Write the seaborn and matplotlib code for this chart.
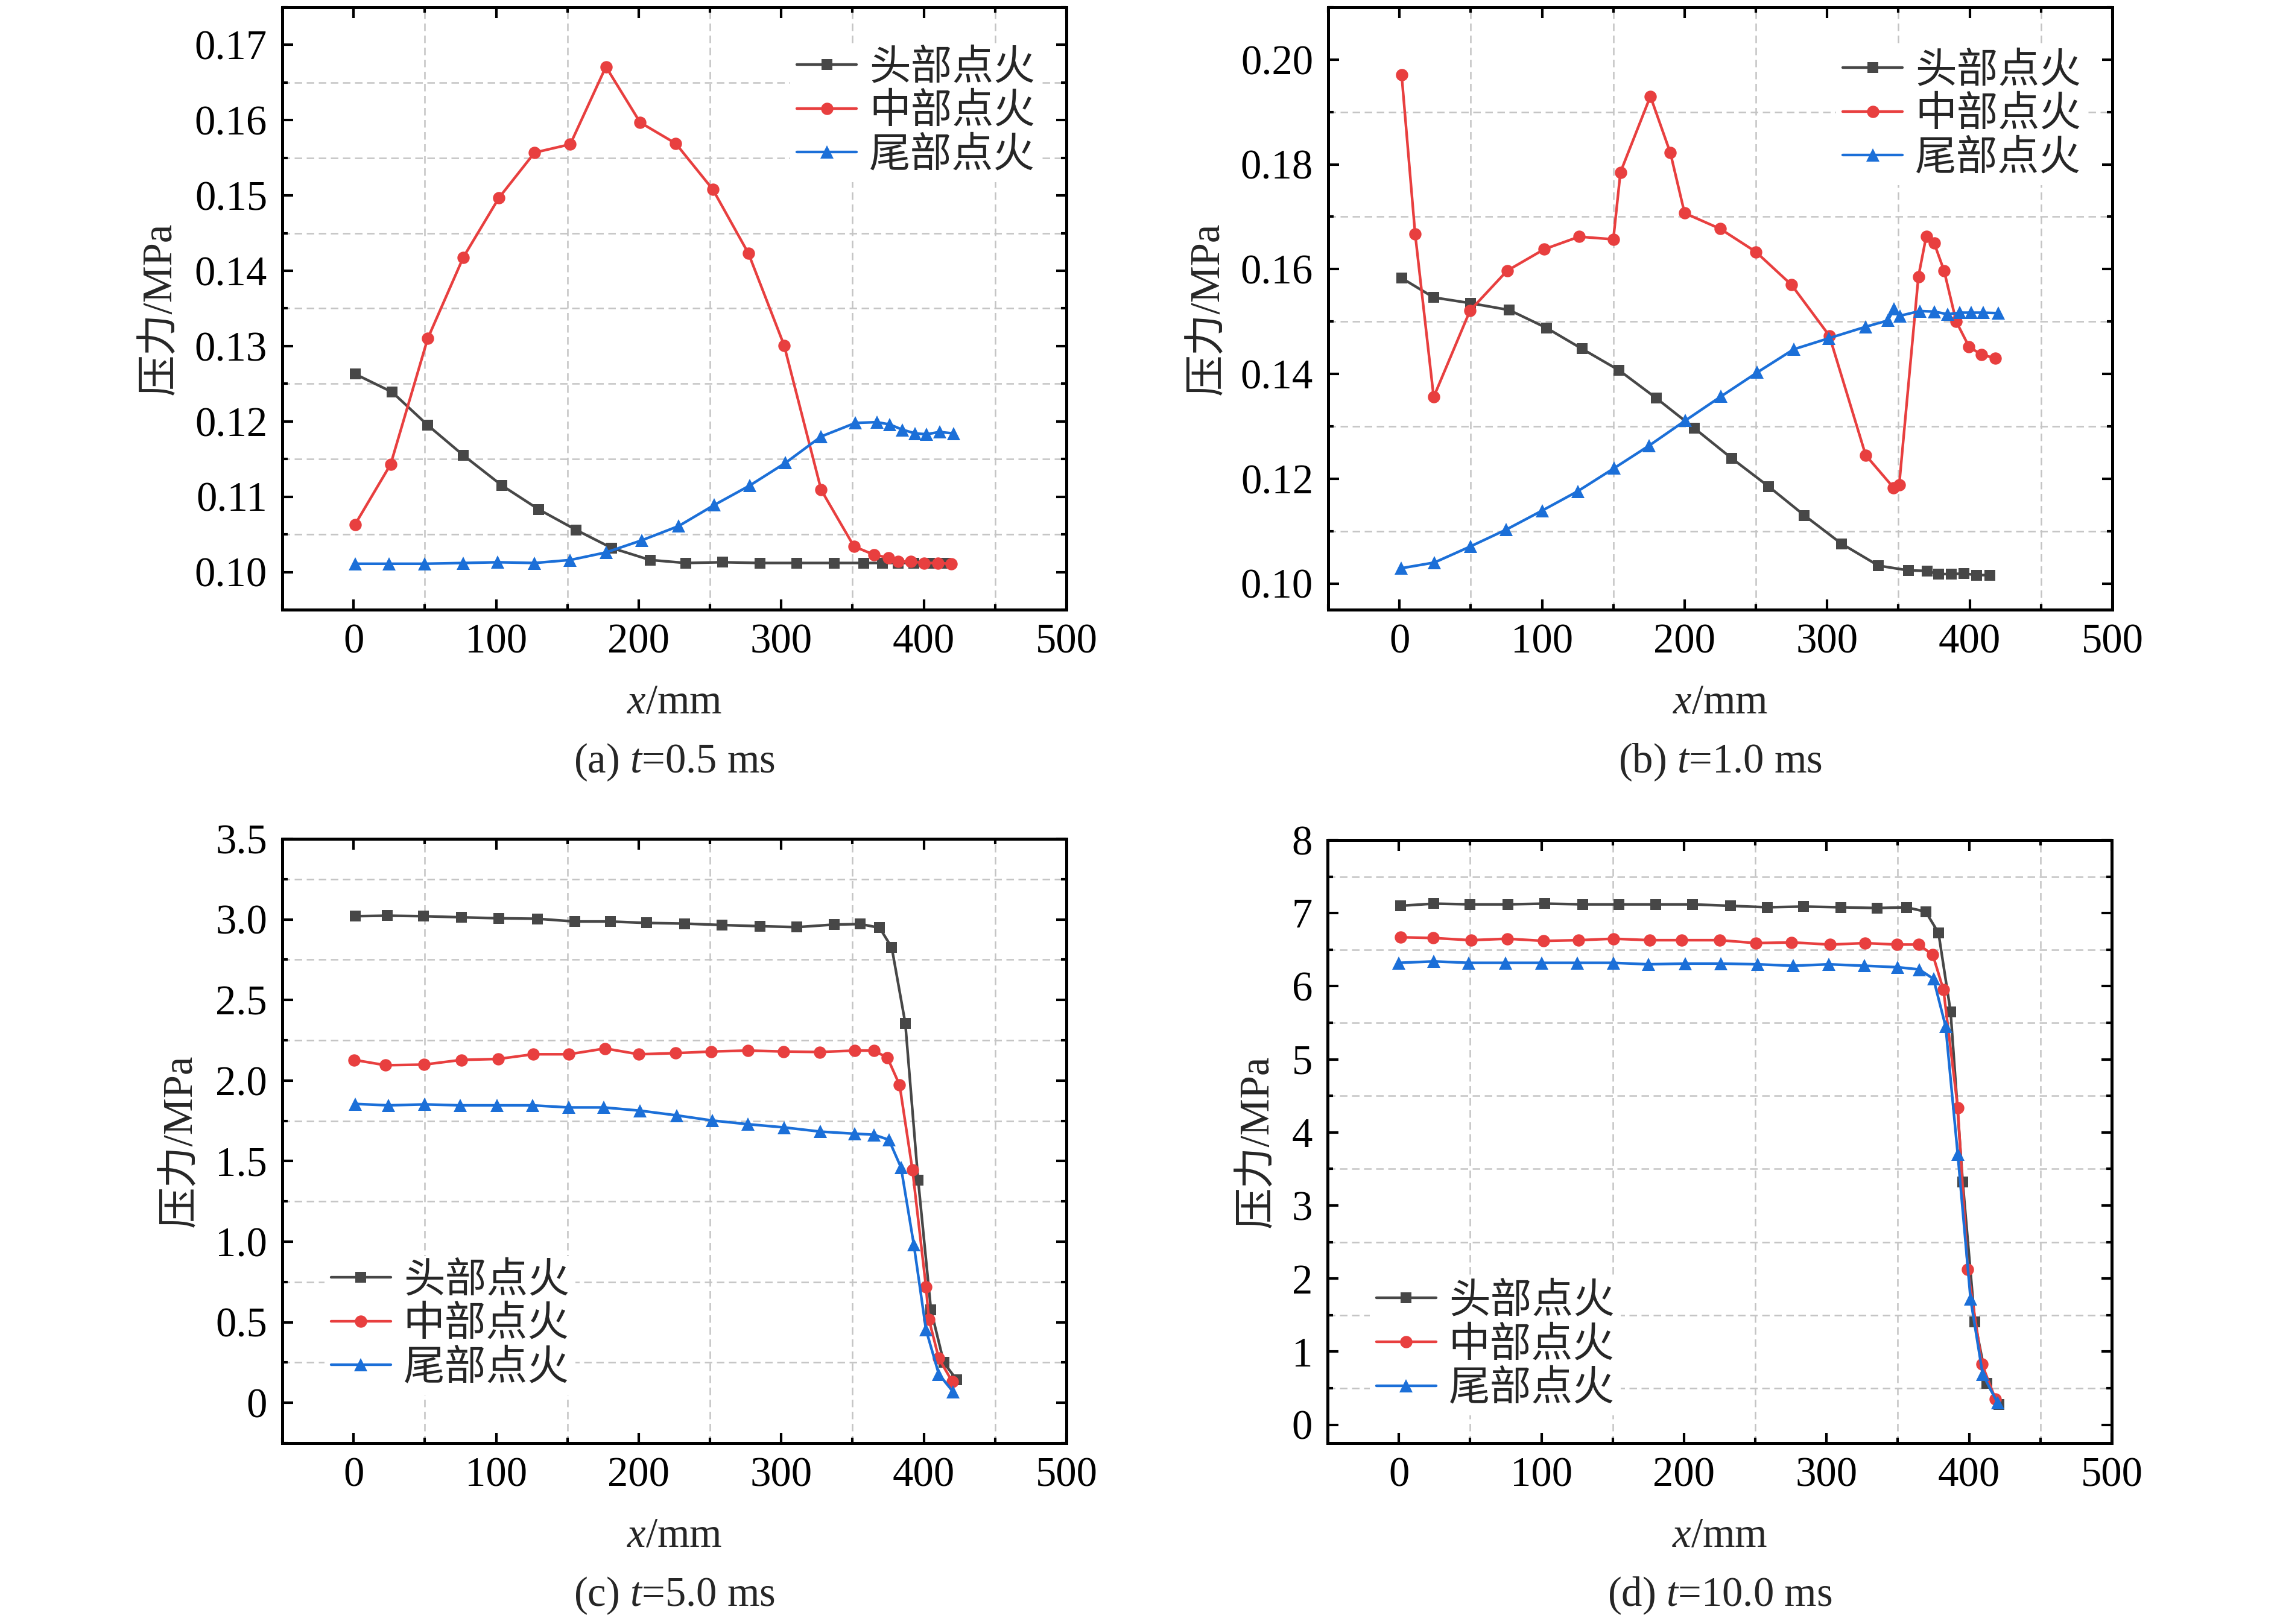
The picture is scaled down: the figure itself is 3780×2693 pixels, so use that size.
import numpy as np
import pandas as pd
import seaborn as sns
import matplotlib.pyplot as plt
from matplotlib.ticker import MultipleLocator, FuncFormatter

# series names
names = ['头部点火', '中部点火', '尾部点火']
colors = ['#474747', '#e83f3f', '#1b6fd8']
markers = ['s', 'o', '^']

# (a) t=0.5 ms
xa_head = [1, 27, 52, 77, 104, 130, 156, 181, 208, 233, 259, 285, 311, 337, 358, 371, 382, 393, 404, 415]
pa_head = [0.1263, 0.1239, 0.1195, 0.1155, 0.1115, 0.1083, 0.1056, 0.1032, 0.1016, 0.1012,
           0.1013, 0.1012, 0.1012, 0.1012, 0.1012, 0.1012, 0.1012, 0.1012, 0.1012, 0.1012]
xa_mid = [1, 26, 52, 77, 102, 127, 152, 177, 201, 226, 252, 277, 302, 328, 351, 365, 375, 382, 391, 400, 410, 419]
pa_mid = [0.1063, 0.1143, 0.1310, 0.1418, 0.1497, 0.1557, 0.1568, 0.1671, 0.1597, 0.1569, 0.1508,
          0.1423, 0.1301, 0.1109, 0.1034, 0.1023, 0.1019, 0.1014, 0.1014, 0.1012, 0.1012, 0.1011]
xa_tail = [1, 25, 50, 77, 101, 127, 152, 177, 202, 228, 253, 278, 303, 328, 352, 367, 376, 385, 394, 402, 411, 421]
pa_tail = [0.1011, 0.1011, 0.1011, 0.1012, 0.1013, 0.1012, 0.1016, 0.1026, 0.1042, 0.1061, 0.1089,
           0.1115, 0.1145, 0.1180, 0.1198, 0.1199, 0.1196, 0.1189, 0.1184, 0.1183, 0.1186, 0.1184]

# (b) t=1.0 ms
xb_head = [1.5, 24, 50, 77, 103, 128, 154, 180, 207, 233, 259, 284, 310, 336, 357, 370, 378, 387, 396, 405, 414]
pb_head = [0.1583, 0.1546, 0.1535, 0.1522, 0.1488, 0.1448, 0.1407, 0.1354, 0.1296, 0.1239, 0.1185,
           0.1130, 0.1076, 0.1034, 0.1025, 0.1024, 0.1018, 0.1018, 0.1019, 0.1016, 0.1016]
xb_mid = [1.5, 11, 24, 49.5, 75.5, 101.5, 126, 150, 155, 176, 190, 200, 225, 250, 275, 301.5, 327,
          346.5, 350.5, 364, 369.5, 375, 382, 390.5, 399.5, 408, 418]
pb_mid = [0.1971, 0.1667, 0.1356, 0.1521, 0.1597, 0.1638, 0.1662, 0.1657, 0.1785, 0.1930, 0.1822,
          0.1707, 0.1677, 0.1633, 0.1570, 0.1473, 0.1245, 0.1183, 0.1188, 0.1586, 0.1663, 0.1650,
          0.1597, 0.1500, 0.1452, 0.1437, 0.1430]
xb_tail = [1, 24.5, 50, 75, 100, 125, 150.5, 175, 200.5, 225.5, 251, 276.5, 301, 327, 342.5, 347,
           351, 365, 375, 384.5, 393, 401, 409.5, 420]
pb_tail = [0.1029, 0.1040, 0.1071, 0.1103, 0.1139, 0.1176, 0.1220, 0.1263, 0.1311, 0.1357, 0.1403,
           0.1447, 0.1468, 0.1490, 0.1502, 0.1524, 0.1511, 0.1520, 0.1519, 0.1514, 0.1517, 0.1517,
           0.1517, 0.1516]

# (c) t=5.0 ms
xc_head = [1, 23.5, 49, 75.5, 102, 129, 155, 180, 205.5, 232, 258.5, 285, 311, 337, 355.5, 369,
           377.5, 387, 396, 405, 414, 423]
pc_head = [3.020, 3.023, 3.020, 3.013, 3.007, 3.004, 2.987, 2.987, 2.978, 2.974, 2.965, 2.958,
           2.952, 2.968, 2.971, 2.948, 2.825, 2.355, 1.382, 0.577, 0.250, 0.143]
xc_mid = [0.5, 22.5, 49.5, 75.5, 101.5, 126, 151, 176.5, 200, 226, 251, 276.5, 301.5, 327, 351.5,
          365, 374.5, 383, 392, 401.5, 403.5, 410.5, 420]
pc_mid = [2.128, 2.095, 2.099, 2.128, 2.134, 2.163, 2.163, 2.199, 2.163, 2.170, 2.180, 2.186,
          2.180, 2.177, 2.186, 2.186, 2.141, 1.972, 1.447, 0.720, 0.519, 0.276, 0.130]
xc_tail = [1, 24.5, 50, 75, 100.5, 125.5, 151, 175.5, 201, 226.5, 251.5, 276.5, 302, 327.5, 351.5,
           365, 375.5, 384, 393, 401.5, 410.5, 420.5]
pc_tail = [1.855, 1.846, 1.852, 1.846, 1.846, 1.846, 1.833, 1.833, 1.813, 1.784, 1.752, 1.729,
           1.709, 1.683, 1.670, 1.664, 1.632, 1.460, 0.980, 0.454, 0.178, 0.068]

# (d) t=10.0 ms
xd_head = [1, 24.5, 50, 76.5, 102.5, 129, 154.5, 180, 206, 232.5, 258.5, 284, 310, 335.5, 356,
           369.5, 378.5, 387, 395.5, 404, 412.5, 421]
pd_head = [7.10, 7.13, 7.12, 7.12, 7.13, 7.12, 7.12, 7.12, 7.12, 7.10, 7.08, 7.09, 7.08, 7.07,
           7.08, 7.02, 6.73, 5.65, 3.32, 1.41, 0.57, 0.28]
xd_mid = [1, 24, 50.5, 76, 101.5, 126, 150.5, 176, 198.5, 225, 250.5, 275.5, 302.5, 327, 349.5,
          364.5, 374.5, 382, 392, 399, 409, 418.5]
pd_mid = [6.67, 6.66, 6.63, 6.65, 6.62, 6.63, 6.65, 6.63, 6.63, 6.63, 6.59, 6.60, 6.57, 6.59,
          6.57, 6.57, 6.43, 5.95, 4.34, 2.13, 0.83, 0.35]
xd_tail = [0, 24.5, 49, 75, 100, 125, 150.5, 175, 201, 226, 251.5, 276.5, 301.5, 326.5, 350, 365,
           375, 383.5, 392, 401, 409.5, 420]
pd_tail = [6.32, 6.34, 6.32, 6.32, 6.32, 6.32, 6.32, 6.30, 6.31, 6.31, 6.30, 6.28, 6.30, 6.28,
           6.26, 6.23, 6.10, 5.45, 3.70, 1.72, 0.69, 0.30]

captions = ['(a) $t$=0.5 ms', '(b) $t$=1.0 ms', '(c) $t$=5.0 ms', '(d) $t$=10.0 ms']

sns.set_theme(style='ticks')
plt.rcParams['font.family'] = ['Liberation Serif', 'Noto Sans CJK SC']
plt.rcParams['mathtext.fontset'] = 'custom'
plt.rcParams['mathtext.rm'] = 'Liberation Serif'
plt.rcParams['mathtext.it'] = 'Liberation Serif:italic'
plt.rcParams['axes.unicode_minus'] = False

FS = 16.5
fig = plt.figure(figsize=(12.6, 8.9767), dpi=300)

W, H = 3780, 2693
boxes = [(468, 12, 1768, 1011), (2202, 12, 3502, 1011),
         (468, 1391, 1768, 2393), (2201, 1393, 3501, 2393)]
axes = [fig.add_axes([l / W, 1 - b / H, (r - l) / W, (b - t) / H]) for l, t, r, b in boxes]

panels = [
    ([xa_head, xa_mid, xa_tail], [pa_head, pa_mid, pa_tail]),
    ([xb_head, xb_mid, xb_tail], [pb_head, pb_mid, pb_tail]),
    ([xc_head, xc_mid, xc_tail], [pc_head, pc_mid, pc_tail]),
    ([xd_head, xd_mid, xd_tail], [pd_head, pd_mid, pd_tail]),
]

ylims = [(0.095, 0.175), (0.095, 0.21), (-0.25, 3.5), (-0.25, 8)]
ysteps = [0.01, 0.02, 0.5, 1]
yfmts = [lambda v, p: f'{v:.2f}', lambda v, p: f'{v:.2f}',
         lambda v, p: '0' if abs(v) < 1e-9 else f'{v:.1f}', lambda v, p: f'{v:.0f}']
ylab_x = [-0.155, -0.153, -0.129, -0.089]
leg_cfg = [dict(loc='upper right', bbox_to_anchor=(0.968, 0.94)),
           dict(loc='upper right', bbox_to_anchor=(0.968, 0.935)),
           dict(loc='lower left', bbox_to_anchor=(0.054, 0.08)),
           dict(loc='lower left', bbox_to_anchor=(0.054, 0.046))]
msizes = [4.5, 4.9, 5.2]

for i, ax in enumerate(axes):
    xs, ys = panels[i]
    for k in range(3):
        sns.lineplot(x=xs[k], y=ys[k], ax=ax, sort=False, estimator=None,
                     color=colors[k], marker=markers[k], markersize=msizes[k],
                     markeredgewidth=0, linewidth=1.05, label=names[k])
    ax.set_xlim(-50, 500)
    ax.set_ylim(*ylims[i])
    ax.xaxis.set_major_locator(MultipleLocator(100))
    ax.xaxis.set_minor_locator(MultipleLocator(50))
    ax.yaxis.set_major_locator(MultipleLocator(ysteps[i]))
    ax.yaxis.set_minor_locator(MultipleLocator(ysteps[i] / 2))
    ax.yaxis.set_major_formatter(FuncFormatter(yfmts[i]))
    ax.grid(False, which='major')
    ax.grid(True, which='minor', color='#c4c4c4', linestyle=(0, (5, 3)), linewidth=0.6)
    ax.set_axisbelow(True)
    ax.tick_params(which='both', direction='in', top=True, right=True, width=1.0,
                   labelsize=FS, colors='black')
    ax.tick_params(which='major', length=4.2)
    ax.tick_params(which='minor', length=2.2)
    ax.tick_params(axis='x', pad=5.5)
    ax.tick_params(axis='y', pad=6)
    for s in ax.spines.values():
        s.set_linewidth(1.2)
        s.set_color('black')
    ax.set_xlabel('')
    ax.set_ylabel('')
    ax.text(0.5, -0.155, '$x$/mm', transform=ax.transAxes, ha='center', va='center', fontsize=FS)
    ax.text(0.5, -0.253, captions[i], transform=ax.transAxes, ha='center', va='center', fontsize=FS)
    ax.text(ylab_x[i], 0.5, '压力/MPa', transform=ax.transAxes, rotation=90,
            ha='center', va='center', fontsize=FS)
    leg = ax.legend(fontsize=FS, frameon=True, facecolor='white', edgecolor='none', framealpha=1,
                    fancybox=False, handlelength=1.45, handletextpad=0.3, labelspacing=0.13,
                    borderpad=0.15, borderaxespad=0, **leg_cfg[i])

fig.savefig('out.png', dpi=300)
